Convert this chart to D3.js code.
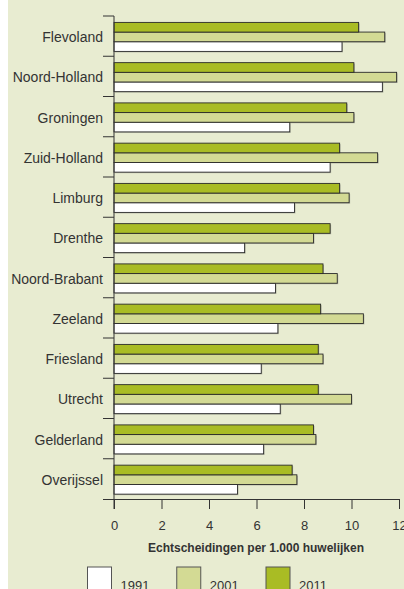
<!DOCTYPE html>
<html>
<head>
<meta charset="utf-8">
<script src="https://cdn.jsdelivr.net/npm/d3@7"></script>
<style>
	html, body { margin: 0; padding: 0; background: #ffffff; }
	svg { display: block; font-family: "Liberation Sans", Arial, sans-serif; }
</style>
</head>
<body>
<div id="chart"></div>
<script>
// Provinces, top to bottom
const provinces = ["Flevoland", "Noord-Holland", "Groningen", "Zuid-Holland", "Limburg", "Drenthe",
	"Noord-Brabant", "Zeeland", "Friesland", "Utrecht", "Gelderland", "Overijssel"];

// Echtscheidingen per 1.000 huwelijken, per year
const values1991 = [9.6, 11.3, 7.4, 9.1, 7.6, 5.5, 6.8, 6.9, 6.2, 7.0, 6.3, 5.2];
const values2001 = [11.4, 11.9, 10.1, 11.1, 9.9, 8.4, 9.4, 10.5, 8.8, 10.0, 8.5, 7.7];
const values2011 = [10.3, 10.1, 9.8, 9.5, 9.5, 9.1, 8.8, 8.7, 8.6, 8.6, 8.4, 7.5];

const years = ["1991", "2001", "2011"];
const xTicks = [0, 2, 4, 6, 8, 10, 12];
const axisTitle = "Echtscheidingen per 1.000 huwelijken";

const colors = { "1991": "#ffffff", "2001": "#d3da94", "2011": "#a9bc24" };

const width = 404, height = 589;

const svg = d3.select("#chart").append("svg")
	.attr("width", width)
	.attr("height", height);

// Panel background (thin white strip on the left)
svg.append("rect")
	.attr("x", 8).attr("y", 0)
	.attr("width", width - 8).attr("height", height)
	.attr("fill", "#e8ecd1");

// Scales
const x = d3.scaleLinear().domain([0, 12]).range([114, 399]);
const y = d3.scaleBand().domain(provinces).range([16, 499]);
// bars within a province: 2011 on top, 1991 at the bottom
const ySub = d3.scaleBand().domain(["2011", "2001", "1991"]).range([6.4, 35.4]);

// Build rows for drawing
const rows = [];
provinces.forEach((p, i) => {
	rows.push({ province: p, year: "1991", value: values1991[i] });
	rows.push({ province: p, year: "2001", value: values2001[i] });
	rows.push({ province: p, year: "2011", value: values2011[i] });
});

// Bar shadows
svg.append("g")
	.selectAll("rect")
	.data(rows)
	.enter()
	.append("rect")
	.attr("x", x(0) + 1)
	.attr("y", d => y(d.province) + ySub(d.year) + 1)
	.attr("width", d => x(d.value) - x(0))
	.attr("height", ySub.bandwidth())
	.attr("fill", "#8a8c80")
	.attr("opacity", 0.55);

// Bars
svg.append("g")
	.selectAll("rect")
	.data(rows)
	.enter()
	.append("rect")
	.attr("x", x(0))
	.attr("y", d => y(d.province) + ySub(d.year))
	.attr("width", d => x(d.value) - x(0))
	.attr("height", ySub.bandwidth())
	.attr("fill", d => colors[d.year])
	.attr("stroke", "#2a2a2a")
	.attr("stroke-width", 0.9);

// Left axis: vertical line + band separator ticks
const axisColor = "#333333";
svg.append("line")
	.attr("x1", x(0)).attr("x2", x(0))
	.attr("y1", 16).attr("y2", 509)
	.attr("stroke", axisColor).attr("stroke-width", 1);

const bandEdges = provinces.map(p => y(p));
svg.append("g")
	.selectAll("line")
	.data(bandEdges)
	.enter()
	.append("line")
	.attr("x1", 103).attr("x2", x(0))
	.attr("y1", d => d).attr("y2", d => d)
	.attr("stroke", axisColor).attr("stroke-width", 1);

// Province labels
svg.append("g")
	.selectAll("text")
	.data(provinces)
	.enter()
	.append("text")
	.attr("x", 103)
	.attr("y", p => y(p) + y.bandwidth() / 2 + 1)
	.attr("dy", "0.35em")
	.attr("text-anchor", "end")
	.attr("font-size", 14)
	.attr("fill", "#333333")
	.text(p => p);

// Bottom axis
const xAxis = d3.axisBottom(x)
	.tickValues(xTicks)
	.tickSize(10)
	.tickPadding(12)
	.tickFormat(d3.format("d"));

const xAxisG = svg.append("g")
	.attr("transform", `translate(0, 499)`)
	.call(xAxis);

xAxisG.select(".domain").remove();
xAxisG.append("line")
	.attr("x1", 103).attr("x2", 399)
	.attr("y1", 0.5).attr("y2", 0.5)
	.attr("stroke", axisColor).attr("stroke-width", 1);
xAxisG.selectAll(".tick line").attr("stroke", axisColor);
xAxisG.selectAll(".tick text")
	.attr("font-family", "'Liberation Sans', Arial, sans-serif")
	.attr("font-size", 13)
	.attr("fill", "#333333");

// Axis title
svg.append("text")
	.attr("x", 256)
	.attr("y", 552)
	.attr("text-anchor", "middle")
	.attr("font-size", 12)
	.attr("font-weight", "bold")
	.attr("fill", "#333333")
	.text(axisTitle);

// Legend
const legendX = d3.scalePoint().domain(years).range([87.5, 266]);
const legend = svg.append("g")
	.selectAll("g")
	.data(years)
	.enter()
	.append("g")
	.attr("transform", d => `translate(${legendX(d)}, 567)`);

legend.append("rect")
	.attr("width", 24)
	.attr("height", 30)
	.attr("fill", d => colors[d])
	.attr("stroke", "#555555")
	.attr("stroke-width", 1);

legend.append("text")
	.attr("x", 33)
	.attr("y", 23)
	.attr("font-size", 13)
	.attr("fill", "#333333")
	.text(d => d);
</script>
</body>
</html>
